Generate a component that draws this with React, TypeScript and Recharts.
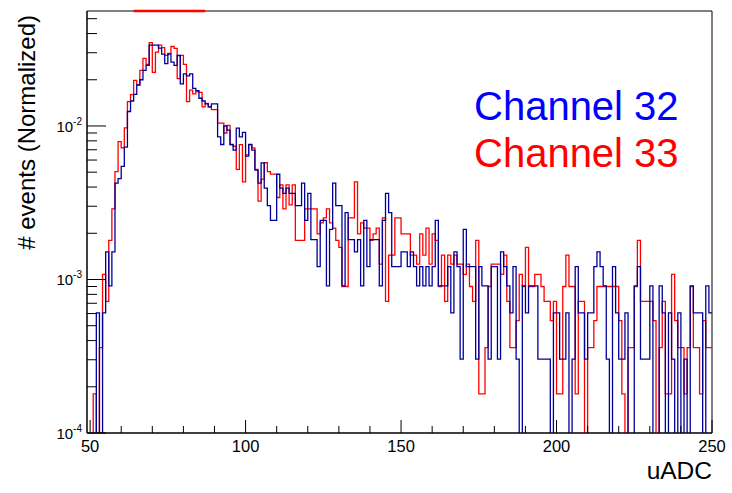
import React from 'react';
import { LineChart, Line, XAxis, YAxis, ReferenceArea, ReferenceLine } from 'recharts';

// Histogram binning: 1 uADC per bin, lower edges 49 .. 249, upper edge 250
const FIRST_BIN = 49;
const LAST_EDGE = 250;

// Raw bin contents, Channel 32 (bins 49..249)
const CH32_COUNTS = [
  0, 0, 0, 2, 0, 2, 5, 3, 5, 14,
  15, 18, 24, 41, 48, 53, 61, 66, 76, 82,
  111, 111, 111, 106, 97, 84, 97, 86, 82, 95,
  62, 72, 70, 72, 58, 56, 50, 48, 46, 44,
  46, 46, 28, 25, 33, 31, 25, 23, 32, 28,
  30, 21, 25, 23, 17, 14, 19, 13, 10, 8,
  8, 16, 13, 12, 13, 12, 12, 10, 10, 14,
  8, 12, 6, 6, 4, 8, 8, 3, 7, 14,
  10, 10, 3, 9, 6, 6, 5, 6, 3, 8,
  4, 6, 6, 6, 3, 8, 12, 9, 4, 4,
  4, 5, 5, 4, 5, 4, 3, 4, 3, 4,
  3, 4, 8, 3, 3, 3, 4, 2, 5, 4,
  1, 7, 4, 4, 4, 1, 4, 3, 3, 1,
  4, 4, 1, 5, 4, 3, 2, 4, 1, 0,
  3, 2, 3, 3, 3, 1, 1, 1, 1, 0,
  2, 2, 1, 1, 2, 0, 1, 4, 2, 2,
  1, 2, 2, 4, 5, 4, 3, 1, 0, 4,
  2, 1, 1, 2, 0, 0, 3, 4, 1, 1,
  1, 3, 0, 0, 3, 2, 0, 2, 1, 0,
  2, 0, 1, 0, 3, 2, 2, 2, 0, 3,
  2,
];

// Raw bin contents, Channel 33 (bins 49..249)
const CH33_COUNTS = [
  0, 0, 1, 0, 2, 6, 4, 10, 16, 28,
  44, 40, 54, 80, 89, 110, 103, 128, 153, 140,
  194, 124, 168, 187, 180, 160, 165, 183, 178, 113,
  160, 140, 80, 95, 90, 93, 92, 74, 78, 74,
  71, 71, 58, 58, 50, 56, 42, 41, 29, 42,
  24, 36, 42, 40, 29, 18, 25, 32, 28, 27,
  27, 19, 23, 16, 23, 17, 23, 10, 10, 10,
  16, 16, 16, 16, 11, 13, 14, 16, 13, 12,
  10, 9, 5, 5, 14, 14, 24, 11, 13, 12,
  12, 10, 11, 12, 7, 14, 4, 8, 8, 14,
  14, 11, 11, 11, 8, 8, 7, 11, 8, 12,
  7, 11, 10, 5, 8, 4, 8, 7, 8, 7,
  7, 6, 7, 5, 4, 10, 1, 1, 2, 5,
  7, 7, 7, 6, 8, 4, 2, 2, 3, 6,
  5, 9, 5, 5, 6, 6, 5, 4, 4, 3,
  4, 1, 1, 5, 8, 5, 5, 1, 4, 4,
  0, 2, 2, 3, 5, 5, 5, 5, 5, 5,
  5, 3, 1, 0, 2, 2, 5, 10, 4, 4,
  4, 4, 3, 0, 2, 4, 1, 1, 6, 3,
  2, 2, 1, 2, 5, 2, 2, 1, 3, 2,
  2,
];

// Entries used for normalisation (including under/overflow)
const CH32_ENTRIES = 3300;
const CH33_ENTRIES = 5556;

const SERIES_NAMES = { ch32: 'Channel 32', ch33: 'Channel 33' };

// Axis ticks
const X_MAJOR = [50, 100, 150, 200, 250];
const X_MINOR_STEP = 10;
const Y_DECADES = [-4, -3, -2];
const Y_MANTISSAS = [1, 2, 3, 4, 5, 6, 7, 8, 9];
const Y_MIN = 1e-4;
const Y_MAX = 0.0561;

// Marker drawn along the top edge of the frame (uADC range)
const TOP_MARK = [64, 87];

const FONT = '"Liberation Sans", Arial, Helvetica, sans-serif';
const BLUE_LINE = '#000099';
const RED_LINE = '#ff0000';
const BLUE_TEXT = '#0000ff';
const RED_TEXT = '#ff0000';

// Empty bins sit below the log axis and get clipped at the frame bottom
const EMPTY = 1e-6;
const norm = (c: number, n: number) => (c > 0 ? c / n : EMPTY);

const nBins = CH32_COUNTS.length;
const rows = Array.from({ length: nBins + 1 }, (_, i) => {
  const k = Math.min(i, nBins - 1);
  return {
    uadc: i < nBins ? FIRST_BIN + i : LAST_EDGE,
    ch32: norm(CH32_COUNTS[k], CH32_ENTRIES),
    ch33: norm(CH33_COUNTS[k], CH33_ENTRIES),
  };
});

const xTicks: number[] = [];
for (let v = X_MAJOR[0]; v <= LAST_EDGE; v += X_MINOR_STEP) xTicks.push(v);

const yTicks: number[] = [];
Y_DECADES.forEach((e) =>
  Y_MANTISSAS.forEach((m) => {
    const v = Number((m * Math.pow(10, e)).toPrecision(3));
    if (v <= Y_MAX) yTicks.push(v);
  })
);

const XTick = (props: any) => {
  const { x, y, payload } = props;
  const major = X_MAJOR.includes(payload.value);
  return (
    <g>
      <line x1={x} x2={x} y1={y} y2={y - (major ? 13 : 7)} stroke="#000" strokeWidth={1} />
      {major && (
        <text x={x} y={y + 19} textAnchor="middle" fontSize={16.5} fontFamily={FONT} fill="#000">
          {payload.value}
        </text>
      )}
    </g>
  );
};

const YTick = (props: any) => {
  const { x, y, payload } = props;
  const lg = Math.log10(payload.value);
  const exp = Math.round(lg);
  const major = Math.abs(lg - exp) < 1e-6;
  return (
    <g>
      <line x1={x} x2={x + (major ? 19 : 10)} y1={y} y2={y} stroke="#000" strokeWidth={1} />
      {major && (
        <text x={x - 5} y={y + 6} textAnchor="end" fontSize={15} fontFamily={FONT} fill="#000">
          10
          <tspan dy={-7} fontSize={10}>{exp}</tspan>
        </text>
      )}
    </g>
  );
};

export default function App() {
  return (
    <div style={{ position: 'absolute', left: 0, top: 0, width: 732, height: 493, background: '#fff' }}>
      <LineChart width={732} height={493} data={rows} margin={{ top: 11, right: 20, bottom: 0, left: 0 }}>
        <ReferenceArea x1={FIRST_BIN} x2={LAST_EDGE} y1={Y_MIN} y2={Y_MAX} fill="none" stroke="#000" strokeWidth={1} />
        <XAxis
          dataKey="uadc"
          type="number"
          domain={[FIRST_BIN, LAST_EDGE]}
          ticks={xTicks}
          interval={0}
          tickSize={0}
          tickMargin={0}
          tick={<XTick />}
          axisLine={{ stroke: '#000' }}
          height={60}
          allowDataOverflow
          label={(p: any) => {
            const vb = p.viewBox || {};
            return (
              <text x={vb.x + vb.width} y={vb.y + 46} textAnchor="end" fontSize={24.5} fontFamily={FONT} fill="#000">
                uADC
              </text>
            );
          }}
        />
        <YAxis
          type="number"
          scale="log"
          domain={[Y_MIN, Y_MAX]}
          ticks={yTicks}
          interval={0}
          tickSize={0}
          tickMargin={0}
          tick={<YTick />}
          axisLine={{ stroke: '#000' }}
          width={87}
          allowDataOverflow
          label={(p: any) => {
            const vb = p.viewBox || {};
            const tx = vb.x + 35;
            const ty = vb.y + 4;
            return (
              <text
                x={tx}
                y={ty}
                transform={`rotate(-90, ${tx}, ${ty})`}
                textAnchor="end"
                fontSize={24}
                fontFamily={FONT}
                fill="#000"
              >
                # events (Normalized)
              </text>
            );
          }}
        />
        <Line
          type="stepAfter"
          dataKey="ch33"
          name={SERIES_NAMES.ch33}
          stroke={RED_LINE}
          strokeWidth={1.3}
          dot={false}
          activeDot={false}
          isAnimationActive={false}
        />
        <Line
          type="stepAfter"
          dataKey="ch32"
          name={SERIES_NAMES.ch32}
          stroke={BLUE_LINE}
          strokeWidth={1.3}
          dot={false}
          activeDot={false}
          isAnimationActive={false}
        />
        <ReferenceLine
          segment={[{ x: TOP_MARK[0], y: Y_MAX }, { x: TOP_MARK[1], y: Y_MAX }]}
          stroke={RED_LINE}
          strokeWidth={2.5}
          ifOverflow="visible"
        />
      </LineChart>
      {/* Series key, drawn as large coloured captions inside the frame */}
      <div
        style={{
          position: 'absolute',
          left: 474,
          top: 83,
          fontFamily: FONT,
          fontSize: 40,
          lineHeight: '47px',
          whiteSpace: 'nowrap',
        }}
      >
        <div style={{ color: BLUE_TEXT }}>{SERIES_NAMES.ch32}</div>
        <div style={{ color: RED_TEXT }}>{SERIES_NAMES.ch33}</div>
      </div>
    </div>
  );
}
